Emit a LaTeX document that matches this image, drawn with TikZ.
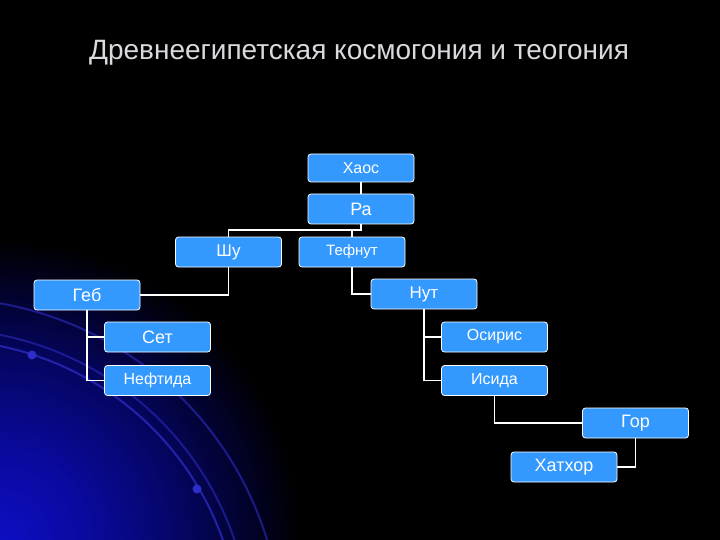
\documentclass[tikz,border=0pt]{standalone}
\usepackage{fontspec}
\setmainfont{Liberation Sans}
\definecolor{boxblue}{RGB}{51,153,255}
\definecolor{glowA}{RGB}{14,14,196}
\definecolor{glowM}{RGB}{10,10,160}
\definecolor{glowB}{RGB}{5,5,100}
\definecolor{glowC}{RGB}{2,2,40}
\definecolor{arcblue}{RGB}{45,45,200}
\definecolor{titlegray}{RGB}{218,218,222}
\pgfdeclareradialshading{cornerglow}{\pgfpoint{0bp}{0bp}}{color(0bp)=(glowA); color(7bp)=(glowM); color(15bp)=(glowB); color(21bp)=(glowC); color(25bp)=(black); color(50bp)=(black)}
\tikzset{
  box/.style={draw=white, line width=0.8pt, fill=boxblue, rounded corners=3pt,
    minimum width=106pt, minimum height=30pt, inner sep=0pt, text=white},
  conn/.style={draw=white, line width=1.6pt},
  arcline/.style={draw=arcblue, line width=2pt, opacity=0.75},
  fs/.style={font=\fontsize{#1}{#1}\selectfont}
}
\begin{document}
\begin{tikzpicture}[x=1pt,y=-1pt]
\fill[black] (0,0) rectangle (720,540);
\useasboundingbox (0,0) rectangle (720,540);
\begin{scope}
  \clip (0,0) rectangle (720,540);
  \shade[shading=cornerglow] (0,540) circle (300);
  \begin{scope}[shift={(-60,640)}]
    \draw[arcline] (-82:300) arc[start angle=-82, end angle=-10, radius=300];
    \draw[arcline, opacity=0.55] (-82:311) arc[start angle=-82, end angle=-10, radius=311];
    \draw[arcline, opacity=0.6] (-82:342) arc[start angle=-82, end angle=-10, radius=342];
  \end{scope}
  \fill[arcblue] (32,355) circle (4.5);
  \fill[arcblue] (197,489) circle (4.5);
\end{scope}

\node[fs=28, text=titlegray, anchor=base, inner sep=0pt] (title) at (359,60) {Древнеегипетская космогония и теогония};

\node[box, fs=16, minimum height=28pt] (haos) at (361,168) {Хаос};
\node[box, fs=18] (ra) at (361,209) {Ра};
\node[box, fs=17] (shu) at (228.5,252) {Шу};
\node[box, fs=15] (tef) at (352,252) {Тефнут};
\node[box, fs=18] (geb) at (87,295) {Геб};
\node[box, fs=17] (nut) at (424,294) {Нут};
\node[box, fs=18] (set) at (157.5,337) {Сет};
\node[box, fs=16] (neft) at (157.5,380.5) {Нефтида};
\node[box, fs=16] (osiris) at (494.5,337) {Осирис};
\node[box, fs=16] (isida) at (494.5,380.5) {Исида};
\node[box, fs=18] (gor) at (635.5,423) {Гор};
\node[box, fs=18] (hathor) at (564,467) {Хатхор};

\coordinate (j1) at (361,230);
\draw[conn] (haos.south) -- (ra.north);
\draw[conn] (ra.south) -- (j1) -| (shu.north);
\draw[conn] (j1) -| (tef.north);
\draw[conn] (shu.south) |- (geb.east);
\draw[conn] (tef.south) |- (nut.west);
\draw[conn] (geb.south) |- (set.west);
\draw[conn] (geb.south) |- (neft.west);
\draw[conn] (nut.south) |- (osiris.west);
\draw[conn] (nut.south) |- (isida.west);
\draw[conn] (isida.south) |- (gor.west);
\draw[conn] (gor.south) |- (hathor.east);
\end{tikzpicture}
\end{document}
